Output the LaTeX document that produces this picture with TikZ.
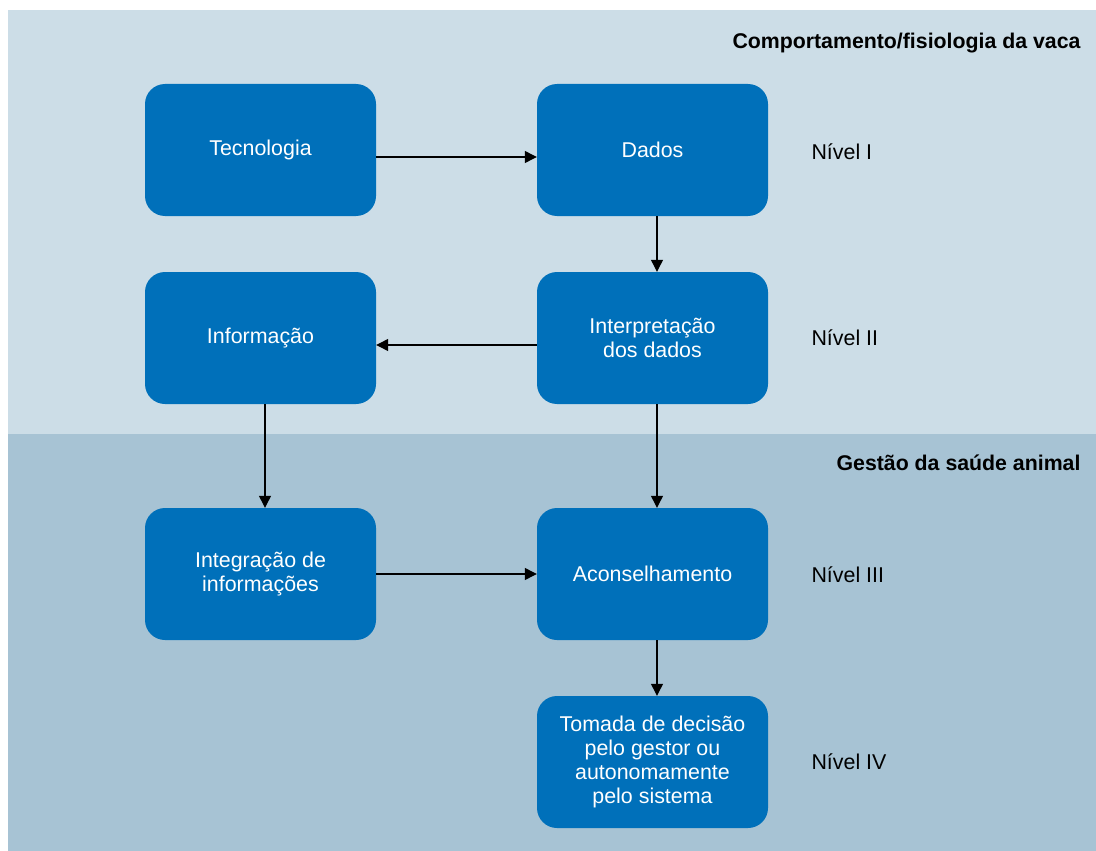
\documentclass[tikz,border=0pt]{standalone}
\usepackage{fontspec}
\setmainfont{Liberation Sans}
\usepackage{tikz}
\usetikzlibrary{arrows.meta, calc}
\usepackage{xcolor}
\definecolor{boxblue}{HTML}{0070BA}
\definecolor{toppanel}{HTML}{CCDDE7}
\definecolor{lowpanel}{HTML}{A7C3D4}

\tikzset{
  stepbox/.style={fill=boxblue, rounded corners=20pt, minimum width=231pt, minimum height=132pt,
    text=white, align=center, font=\fontsize{21.4}{24}\selectfont, inner sep=0pt},
  level/.style={anchor=west, font=\fontsize{21.4}{24}\selectfont},
  header/.style={anchor=east, font=\bfseries\fontsize{21.3}{24}\selectfont},
  flow/.style={-{Triangle[length=12pt,width=12pt]}, line width=1.2pt, black}
}

\begin{document}
\begin{tikzpicture}[x=1pt, y=-1pt]
  \useasboundingbox (0,0) rectangle (1096,851);
  \fill[toppanel] (8,10) rectangle (1096,434);
  \fill[lowpanel] (8,434) rectangle (1096,851);

  \node[header] (hdrA) at (1084,43) {Comportamento/fisiologia da vaca};
  \node[header] (hdrB) at (1084,463) {Gestão da saúde animal};

  \node[stepbox] (tec) at (260.5,150) {Tecnologia};
  \node[stepbox] (dad) at (652.5,150) {Dados};
  \node[stepbox] (inf) at (260.5,338) {Informação};
  \node[stepbox] (int) at (652.5,338) {Interpretação\\dos dados};
  \node[stepbox] (itg) at (260.5,574) {Integração de\\informações};
  \node[stepbox] (acs) at (652.5,574) {Aconselhamento};
  \node[stepbox] (tom) at (652.5,762) {Tomada de decisão\\pelo gestor ou\\autonomamente\\pelo sistema};

  \node[level] (nv1) at (808,152) {Nível I};
  \node[level] (nv2) at (808,338) {Nível II};
  \node[level] (nv3) at (808,575) {Nível III};
  \node[level] (nv4) at (808,762) {Nível IV};

  \draw[flow] ([yshift=-7pt]tec.east) -- ([yshift=-7pt]dad.west);
  \draw[flow] ([xshift=4.5pt]dad.south) -- ([xshift=4.5pt]int.north);
  \draw[flow] ([yshift=-7pt]int.west) -- ([yshift=-7pt]inf.east);
  \draw[flow] ([xshift=4.5pt]inf.south) -- ([xshift=4.5pt]itg.north);
  \draw[flow] ([xshift=4.5pt]int.south) -- ([xshift=4.5pt]acs.north);
  \draw[flow] (itg.east) -- (acs.west);
  \draw[flow] ([xshift=4.5pt]acs.south) -- ([xshift=4.5pt]tom.north);
\end{tikzpicture}
\end{document}
